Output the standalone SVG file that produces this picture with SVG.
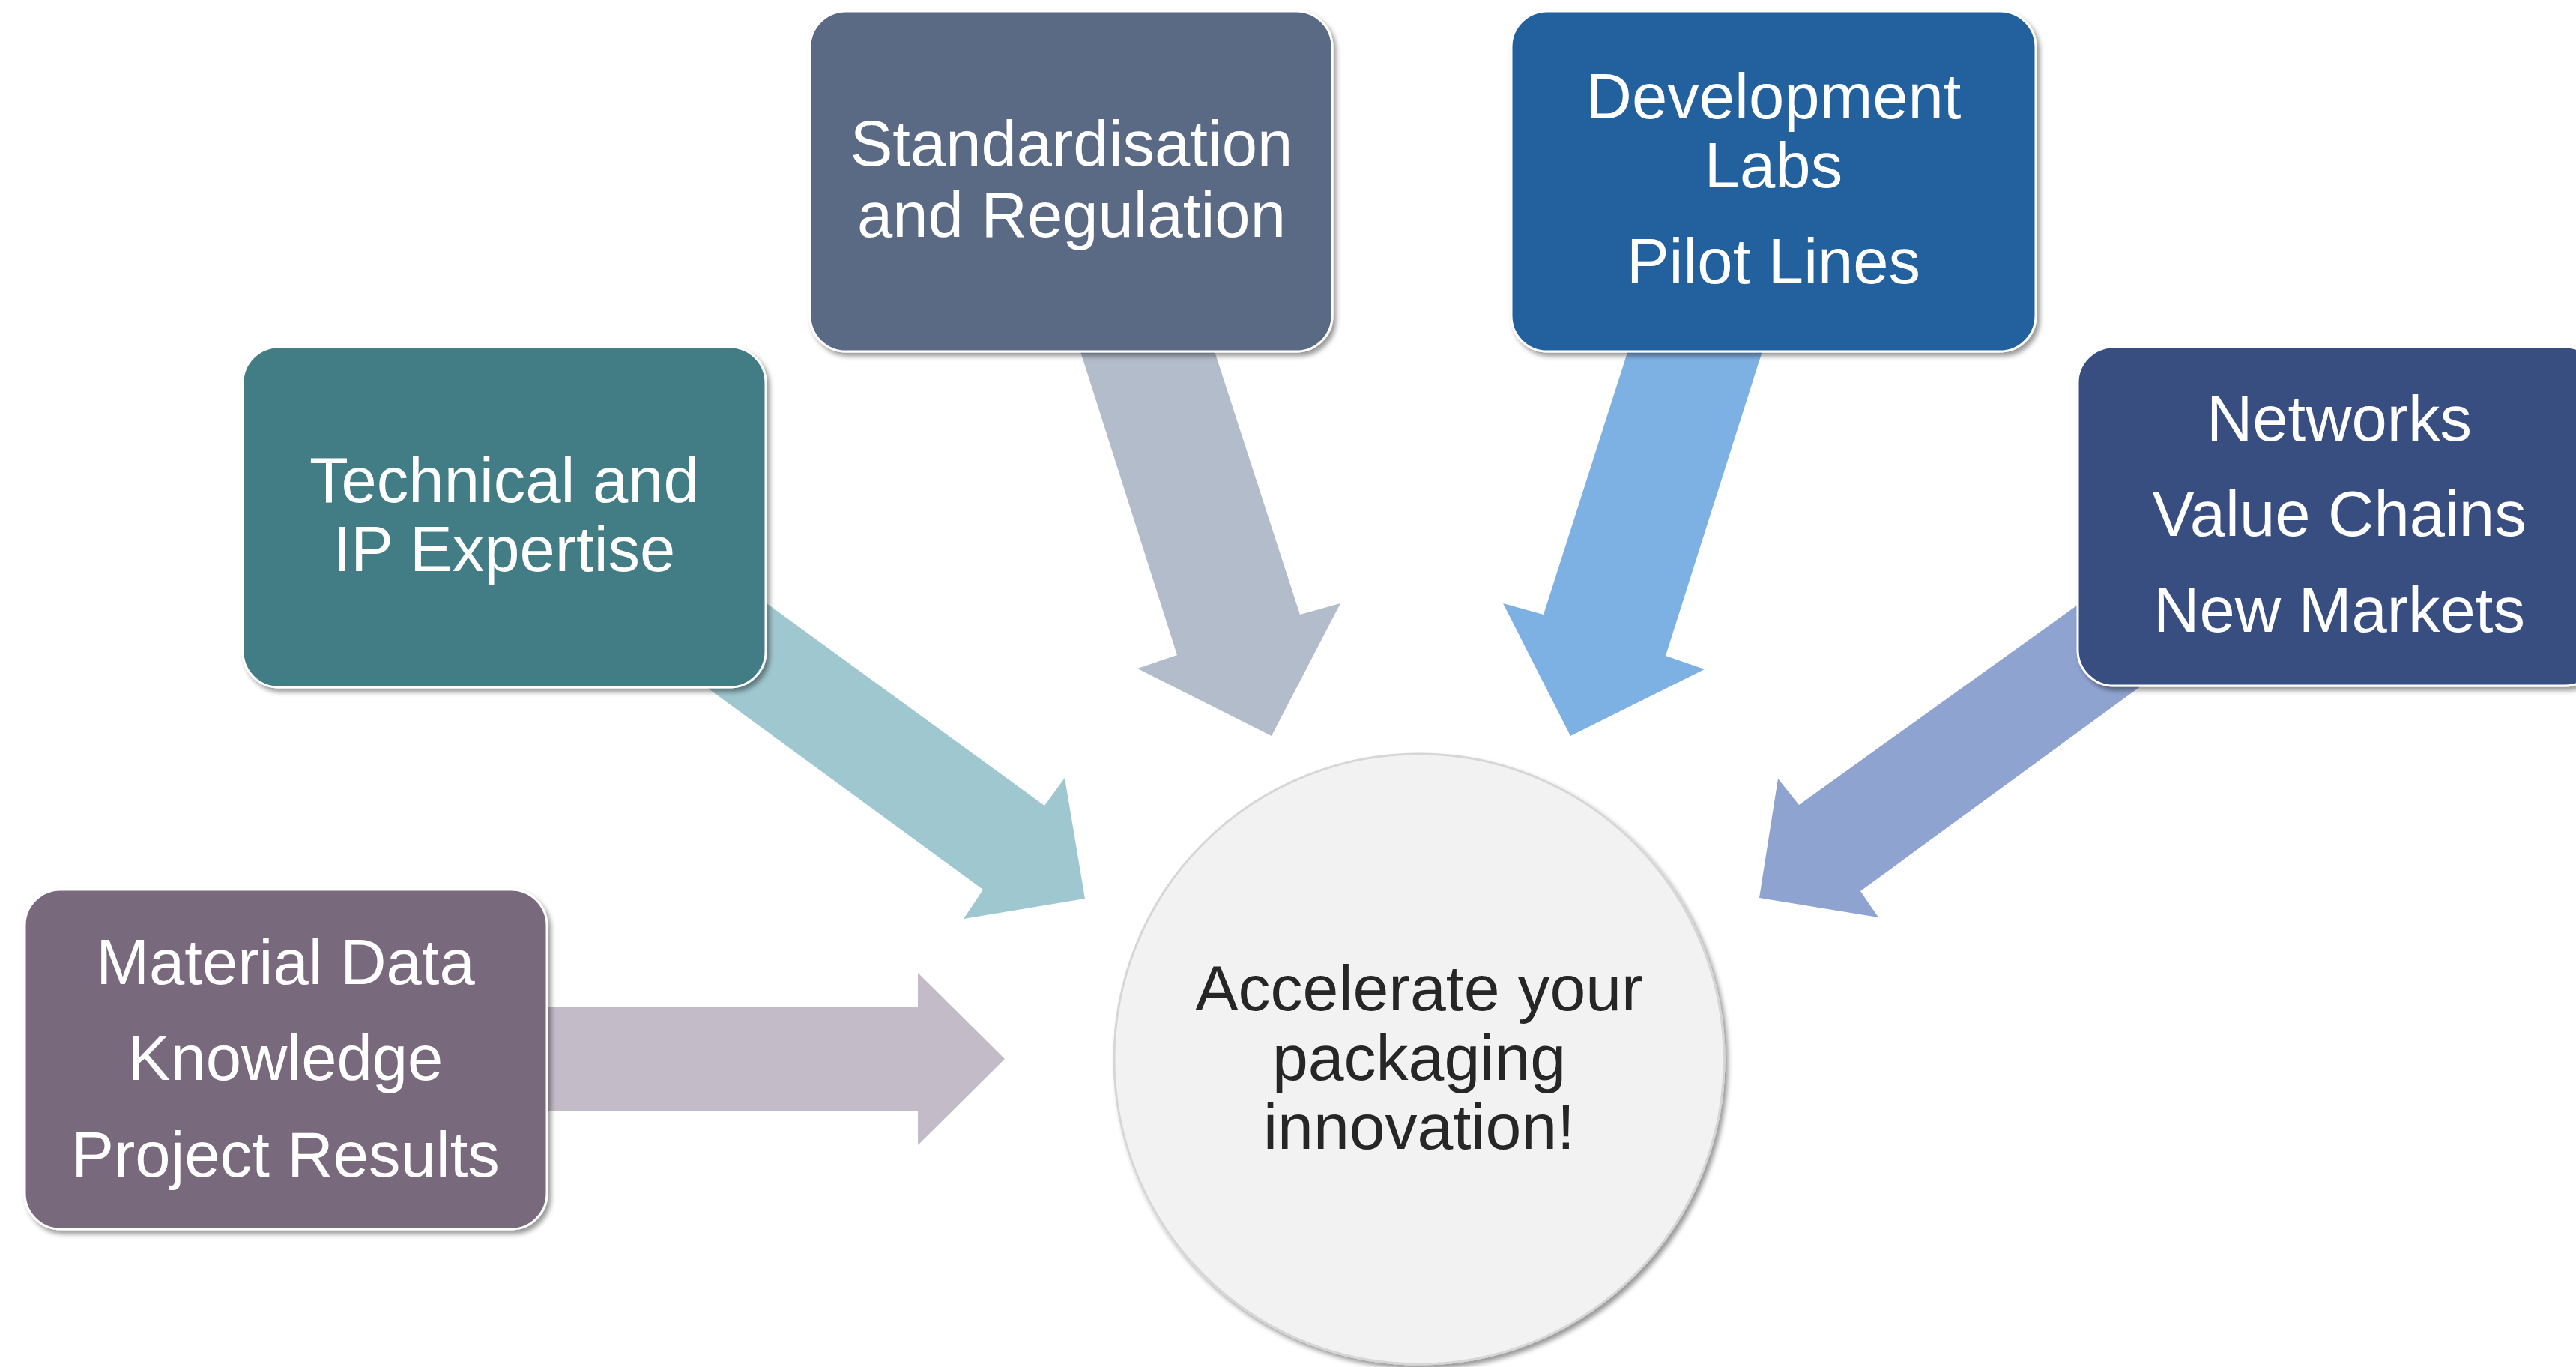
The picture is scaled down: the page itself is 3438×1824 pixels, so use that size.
<svg xmlns="http://www.w3.org/2000/svg" width="3438" height="1824" viewBox="0 0 3438 1824">
<defs>
<style>
.box{stroke:#ffffff;stroke-width:3;filter:url(#sh)}
.lbl{font-family:"Liberation Sans",Arial,sans-serif;font-size:85px;fill:#ffffff;text-anchor:middle}
.ctr{font-family:"Liberation Sans",Arial,sans-serif;font-size:86px;fill:#262626;text-anchor:middle}
</style>
<filter id="sh" x="-10%" y="-10%" width="125%" height="125%">
<feDropShadow dx="4" dy="5" stdDeviation="3" flood-color="#000000" flood-opacity="0.4"/>
</filter>
</defs>
<rect width="3438" height="1824" fill="#ffffff"/>
<g id="connectors">
<polygon points="600,1343 1225,1343 1225,1298 1341,1413 1225,1528 1225,1482 600,1482" fill="#c3bbc8"/>
<polygon points="780,628 1394,1075 1421,1038 1448,1199 1286,1226 1312,1187 701,740" fill="#9fc7cf"/>
<polygon points="1382,281 1560,281 1735,820 1789,805 1697,982 1518,892 1571,874" fill="#b2bccb"/>
<polygon points="2233,280 2412,280 2223,875 2275,893 2096,982 2006,805 2060,820" fill="#7eb1e3"/>
<polygon points="3017,632 2401,1074 2373,1039 2348,1198 2507,1224 2483,1189 3092,744" fill="#8fa3d0"/>
</g>
<g id="node-material">
<rect class="box" x="33" y="1187" width="697" height="453" rx="48" fill="#786a7b"/>
<text class="lbl" x="381" y="1313">Material Data</text>
<text class="lbl" x="381" y="1441">Knowledge</text>
<text class="lbl" x="381" y="1570">Project Results</text>
</g>
<g id="node-technical">
<rect class="box" x="324" y="463" width="698" height="454" rx="48" fill="#427b85"/>
<text class="lbl" x="673" y="670">Technical and</text>
<text class="lbl" x="673" y="762">IP Expertise</text>
</g>
<g id="node-standardisation">
<rect class="box" x="1081" y="15" width="697" height="454" rx="48" fill="#5a6b84"/>
<text class="lbl" x="1430" y="221">Standardisation</text>
<text class="lbl" x="1430" y="316">and Regulation</text>
</g>
<g id="node-development">
<rect class="box" x="2017" y="15" width="700" height="454" rx="48" fill="#22609e"/>
<text class="lbl" x="2367" y="158">Development</text>
<text class="lbl" x="2367" y="250">Labs</text>
<text class="lbl" x="2367" y="378">Pilot Lines</text>
</g>
<g id="node-networks">
<rect class="box" x="2773" y="463" width="698" height="452" rx="48" fill="#384e80"/>
<text class="lbl" x="3122" y="588">Networks</text>
<text class="lbl" x="3122" y="715">Value Chains</text>
<text class="lbl" x="3122" y="843">New Markets</text>
</g>
<g id="node-center">
<circle cx="1894" cy="1413" r="407" fill="#f2f2f2" stroke="#d6d6d6" stroke-width="3" filter="url(#sh)"/>
<text class="ctr" x="1894" y="1348">Accelerate your</text>
<text class="ctr" x="1894" y="1441">packaging</text>
<text class="ctr" x="1894" y="1533">innovation!</text>
</g>
</svg>
